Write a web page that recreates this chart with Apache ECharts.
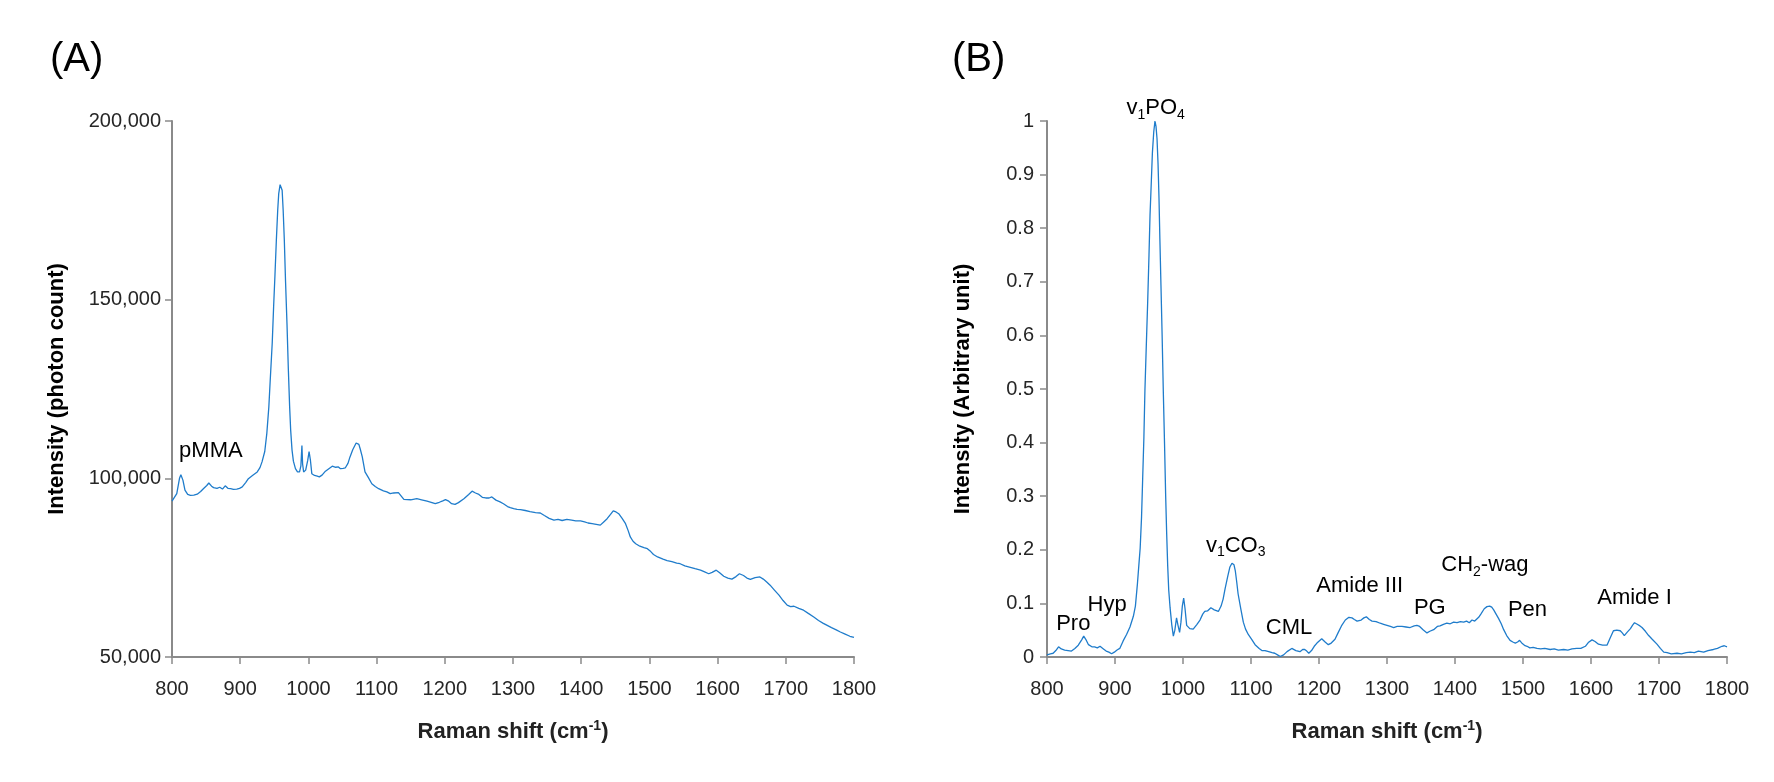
<!DOCTYPE html>
<html>
<head>
<meta charset="utf-8">
<script src="https://cdn.jsdelivr.net/npm/echarts@6/dist/echarts.min.js"></script>
<style>
  html, body { margin: 0; padding: 0; background: #fff; }
  #chart { width: 1774px; height: 782px; }
</style>
</head>
<body>
<div id="chart"></div>
<script>
const FONT = 'Liberation Sans, Arial, sans-serif'
const LINE_COLOR = '#1f7ccb'
const AXIS_COLOR = '#8a8a8a'
const LABEL_COLOR = '#262626'
const TEXT_COLOR = '#000'

// panel A: raw spectrum (photon count)
const shiftA = [
  800, 802, 807, 811, 813, 816, 819, 823, 827, 832, 837, 842, 846, 851, 854, 858, 861, 866, 870, 874,
  878, 882, 886, 890, 895, 899, 903, 908, 912, 918, 925, 929, 932, 936, 939, 942, 944, 947, 949, 951,
  953, 955, 956.5, 958.5, 960, 961.5, 963, 964.7, 966.5, 968.6, 970.5, 972.5, 974, 976, 978, 981, 984, 987, 989, 990.5,
  991.5, 993, 996, 999, 1001, 1003, 1005, 1009, 1013, 1016, 1020, 1025, 1030, 1035, 1040, 1044, 1047, 1051, 1054, 1058,
  1061, 1065, 1070, 1074, 1076, 1079, 1083, 1088, 1093, 1098, 1103, 1110, 1115, 1120, 1125, 1132, 1140, 1150, 1159, 1166,
  1174, 1180, 1186, 1192, 1197, 1201, 1205, 1210, 1215, 1220, 1228, 1235, 1240, 1245, 1250, 1255, 1260, 1265, 1269, 1275,
  1281, 1286, 1292, 1296, 1301, 1306, 1311, 1318, 1325, 1333, 1340, 1346, 1353, 1360, 1366, 1372, 1379, 1386, 1392, 1399,
  1405, 1410, 1416, 1422, 1428, 1433, 1438, 1443, 1447, 1451, 1455, 1460, 1465, 1469, 1472, 1476, 1480, 1486, 1492, 1497,
  1502, 1506, 1512, 1520, 1526, 1533, 1540, 1545, 1552, 1560, 1567, 1575, 1581, 1587, 1592, 1598, 1603, 1609, 1615, 1621,
  1627, 1632, 1638, 1643, 1648, 1655, 1662, 1667, 1672, 1677, 1683, 1690, 1696, 1702, 1707, 1712, 1719, 1726, 1733, 1741,
  1748, 1755, 1760, 1767, 1774, 1780, 1787, 1794, 1800
]
const countA = [
  93600, 93850, 95700, 100000, 101000, 99500, 96700, 95500, 95250, 95300, 95550, 96300, 97100, 98000, 98700, 97800, 97400, 97200, 97500, 97000,
  97900, 97200, 97100, 96900, 97000, 97200, 97600, 98800, 99900, 100800, 101800, 103000, 104600, 107500, 112500, 120000, 127400, 138000, 148000, 157000,
  166600, 175000, 179700, 182200, 182000, 180600, 175000, 166600, 155000, 143300, 131000, 120000, 113500, 107900, 104800, 102700, 101800, 101800, 103500, 109200,
  104000, 101800, 102300, 105000, 107500, 105000, 101300, 100800, 100600, 100400, 100900, 102000, 102700, 103400, 103100, 103200, 102700, 102800, 102900, 104200,
  106000, 108000, 109900, 109500, 108200, 106000, 101800, 100200, 98500, 97700, 97100, 96500, 96200, 95700, 95900, 96000, 94100, 94000, 94300, 94000,
  93600, 93300, 92900, 93300, 93700, 94050, 93700, 92900, 92700, 93200, 94300, 95500, 96400, 95900, 95500, 94700, 94500, 94500, 94800, 93900,
  93400, 92900, 92100, 91800, 91500, 91300, 91250, 91000, 90700, 90400, 90300, 89600, 88800, 88300, 88500, 88200, 88500, 88300, 88100, 88100,
  87800, 87500, 87300, 87100, 86900, 87800, 88700, 89900, 90900, 90600, 90100, 88800, 87300, 85300, 83600, 82400, 81700, 81000, 80600, 80300,
  79500, 78700, 78000, 77400, 77000, 76700, 76300, 76100, 75500, 75100, 74700, 74300, 73800, 73300, 73700, 74300, 73600, 72600, 72100, 71800,
  72500, 73300, 72800, 72100, 71700, 72200, 72400, 71800, 71000, 70100, 68800, 67300, 65800, 64500, 64100, 64200, 63600, 63100, 62200, 61200,
  60200, 59400, 58900, 58200, 57600, 57000, 56400, 55800, 55500
]

// panel B: processed spectrum (arbitrary unit)
const shiftB = [
  800, 805, 809, 813, 817, 821, 826, 831, 836, 841, 846, 851, 854, 857, 861, 866, 870, 874, 878, 883,
  887, 891, 895, 899, 903, 907, 912, 917, 922, 927, 930, 933, 935, 937, 939, 940.7, 942.5, 944, 946, 948,
  950, 951.5, 953.5, 955, 957, 958.8, 960.3, 961.8, 963.3, 964.7, 966, 967.6, 969.3, 971, 972.8, 974.5, 976, 977.5, 979, 981,
  983.5, 985.8, 988, 990.5, 992.5, 995, 997, 999, 1001, 1003, 1005.4, 1010, 1015, 1020, 1025, 1029, 1032, 1036, 1041, 1046,
  1052, 1056, 1059, 1062, 1065.7, 1069, 1072, 1075, 1077, 1079, 1081, 1085, 1088.7, 1092, 1096, 1101, 1106, 1112, 1116, 1120.6,
  1126, 1131, 1135, 1139, 1143, 1148, 1153, 1160, 1166, 1172, 1176, 1179, 1182, 1185, 1189, 1193, 1197, 1204, 1209, 1213.7,
  1218, 1223.5, 1228, 1233, 1238.7, 1244, 1248.5, 1252, 1256, 1262, 1266, 1269.6, 1274, 1278, 1284, 1290, 1295, 1300, 1305, 1309.8,
  1315, 1322, 1328, 1334, 1340, 1344, 1348, 1353, 1358.8, 1363, 1368.6, 1374, 1378, 1383, 1388, 1393, 1398, 1403, 1408, 1412.7,
  1417, 1421, 1425, 1429, 1434.8, 1438, 1443, 1447, 1451, 1454, 1456.9, 1460, 1464, 1468, 1471.6, 1476, 1481, 1485, 1488.7, 1492,
  1495, 1499, 1503, 1506, 1510, 1515, 1520.6, 1526, 1532, 1540, 1546, 1552, 1559.8, 1566, 1572, 1579, 1585, 1591.7, 1596, 1601.5,
  1606, 1611, 1617, 1623.5, 1628, 1633, 1638, 1643, 1646, 1649, 1653, 1658, 1661, 1664, 1668, 1672, 1675, 1680, 1684.8, 1690,
  1697, 1702, 1707, 1712, 1718, 1726.5, 1733, 1740, 1746, 1752, 1758, 1765.7, 1772, 1780, 1786, 1792.6, 1796, 1800
]
const intensityB = [
  0.004, 0.006, 0.007, 0.012, 0.019, 0.015, 0.013, 0.012, 0.011, 0.016, 0.022, 0.032, 0.039, 0.033, 0.023, 0.019, 0.019, 0.017, 0.020, 0.015,
  0.011, 0.009, 0.006, 0.009, 0.013, 0.016, 0.030, 0.042, 0.056, 0.076, 0.095, 0.137, 0.170, 0.203, 0.260, 0.333, 0.410, 0.497, 0.580, 0.660,
  0.750, 0.824, 0.890, 0.941, 0.980, 1.000, 0.990, 0.967, 0.920, 0.856, 0.780, 0.693, 0.600, 0.497, 0.400, 0.301, 0.230, 0.170, 0.125, 0.092,
  0.060, 0.039, 0.050, 0.073, 0.060, 0.046, 0.065, 0.095, 0.110, 0.090, 0.059, 0.053, 0.052, 0.060, 0.069, 0.080, 0.085, 0.086, 0.092, 0.088,
  0.085, 0.095, 0.108, 0.128, 0.150, 0.168, 0.175, 0.172, 0.160, 0.140, 0.118, 0.090, 0.065, 0.052, 0.042, 0.033, 0.023, 0.016, 0.012, 0.012,
  0.010, 0.008, 0.007, 0.004, 0.001, 0.004, 0.010, 0.016, 0.012, 0.010, 0.014, 0.014, 0.011, 0.007, 0.012, 0.020, 0.026, 0.034, 0.028, 0.023,
  0.026, 0.033, 0.045, 0.058, 0.069, 0.074, 0.073, 0.070, 0.067, 0.069, 0.073, 0.075, 0.070, 0.067, 0.066, 0.063, 0.061, 0.059, 0.057, 0.055,
  0.057, 0.057, 0.056, 0.055, 0.058, 0.059, 0.057, 0.051, 0.045, 0.048, 0.051, 0.057, 0.058, 0.061, 0.063, 0.062, 0.065, 0.064, 0.066, 0.065,
  0.067, 0.064, 0.069, 0.067, 0.074, 0.080, 0.090, 0.094, 0.095, 0.093, 0.088, 0.081, 0.072, 0.062, 0.051, 0.040, 0.031, 0.028, 0.026, 0.028,
  0.031, 0.025, 0.021, 0.020, 0.017, 0.018, 0.016, 0.015, 0.016, 0.014, 0.015, 0.013, 0.014, 0.013, 0.015, 0.016, 0.016, 0.020, 0.027, 0.032,
  0.029, 0.024, 0.022, 0.022, 0.035, 0.049, 0.050, 0.049, 0.045, 0.040, 0.046, 0.053, 0.059, 0.064, 0.061, 0.058, 0.055, 0.048, 0.040, 0.033,
  0.024, 0.016, 0.009, 0.008, 0.006, 0.007, 0.006, 0.008, 0.009, 0.008, 0.011, 0.009, 0.012, 0.014, 0.016, 0.020, 0.021, 0.019
]

// peak annotations: [raman shift, intensity, label]
const peaksA = [
  [857, 107700, 'pMMA']
]
const peaksB = [
  [838.7, 0.062, 'Pro'],
  [888.5, 0.097, 'Hyp'],
  [959.8, 1.0245, 'v{sub|1}PO{sub|4}'],
  [1077.5, 0.208, 'v{sub|1}CO{sub|3}'],
  [1155.9, 0.054, 'CML'],
  [1259.9, 0.133, 'Amide III'],
  [1363, 0.091, 'PG'],
  [1444, 0.171, 'CH{sub|2}-wag'],
  [1506.6, 0.087, 'Pen'],
  [1664, 0.110, 'Amide I']
]

const xTicks = { min: 800, max: 1800, interval: 100 }

function zip(xs, ys) {
  return xs.map((x, i) => [x, ys[i]])
}

function xAxis(gridIndex) {
  return {
    type: 'value',
    gridIndex: gridIndex,
    min: xTicks.min,
    max: xTicks.max,
    interval: xTicks.interval,
    name: 'Raman shift (cm{sup|-1})',
    nameLocation: 'middle',
    nameGap: 62,
    nameTextStyle: {
      fontFamily: FONT, fontSize: 22, fontWeight: 'bold', color: '#222', lineHeight: 26,
      rich: { sup: { fontFamily: FONT, fontSize: 14, fontWeight: 'bold', color: '#222', verticalAlign: 'top', lineHeight: 16 } }
    },
    axisLine: { lineStyle: { color: AXIS_COLOR, width: 2 } },
    axisTick: { length: 7, lineStyle: { color: AXIS_COLOR, width: 1.5 } },
    axisLabel: { fontFamily: FONT, fontSize: 20, color: LABEL_COLOR, margin: 22, formatter: v => String(v) },
    splitLine: { show: false }
  }
}

function yAxis(gridIndex, opts) {
  return Object.assign({
    type: 'value',
    gridIndex: gridIndex,
    nameLocation: 'middle',
    nameTextStyle: { fontFamily: FONT, fontSize: 22, fontWeight: 'bold', color: TEXT_COLOR },
    axisLine: { show: true, lineStyle: { color: AXIS_COLOR, width: 2 } },
    axisTick: { show: true, length: 7, lineStyle: { color: AXIS_COLOR, width: 1.5 } },
    splitLine: { show: false }
  }, opts)
}

function peakSeries(axisIndex, peaks) {
  return {
    type: 'scatter',
    xAxisIndex: axisIndex,
    yAxisIndex: axisIndex,
    data: peaks,
    symbolSize: 0,
    clip: false,
    silent: true,
    itemStyle: { opacity: 1, color: 'transparent' },
    label: {
      show: true,
      position: 'inside',
      formatter: p => p.data[2],
      fontFamily: FONT,
      fontSize: 22,
      color: TEXT_COLOR,
      opacity: 1,
      lineHeight: 28,
      rich: { sub: { fontFamily: FONT, fontSize: 14, color: TEXT_COLOR, verticalAlign: 'bottom', lineHeight: 16 } }
    }
  }
}

const chart = echarts.init(document.getElementById('chart'))

const option = {
  animation: false,
  title: [
    { text: '(A)', left: 50, top: 40, padding: 0, textStyle: { fontFamily: FONT, fontSize: 40, fontWeight: 'normal', color: TEXT_COLOR } },
    { text: '(B)', left: 952, top: 40, padding: 0, textStyle: { fontFamily: FONT, fontSize: 40, fontWeight: 'normal', color: TEXT_COLOR } }
  ],
  grid: [
    { left: 172, top: 121, width: 682, height: 536 },
    { left: 1047, top: 121, width: 680, height: 536 }
  ],
  xAxis: [xAxis(0), xAxis(1)],
  yAxis: [
    yAxis(0, {
      min: 50000, max: 200000, interval: 50000,
      name: 'Intensity (photon count)', nameGap: 104,
      axisLabel: { fontFamily: FONT, fontSize: 20, color: LABEL_COLOR, margin: 11, formatter: v => v.toLocaleString('en-US') }
    }),
    yAxis(1, {
      min: 0, max: 1, interval: 0.1,
      name: 'Intensity (Arbitrary unit)', nameGap: 73,
      axisLabel: { fontFamily: FONT, fontSize: 20, color: LABEL_COLOR, margin: 13 }
    })
  ],
  series: [
    {
      type: 'line', xAxisIndex: 0, yAxisIndex: 0,
      data: zip(shiftA, countA),
      showSymbol: false, silent: true,
      lineStyle: { color: LINE_COLOR, width: 1.3 }
    },
    {
      type: 'line', xAxisIndex: 1, yAxisIndex: 1,
      data: zip(shiftB, intensityB),
      showSymbol: false, silent: true,
      lineStyle: { color: LINE_COLOR, width: 1.3 }
    },
    peakSeries(0, peaksA),
    peakSeries(1, peaksB)
  ]
}

chart.setOption(option)
</script>
</body>
</html>
